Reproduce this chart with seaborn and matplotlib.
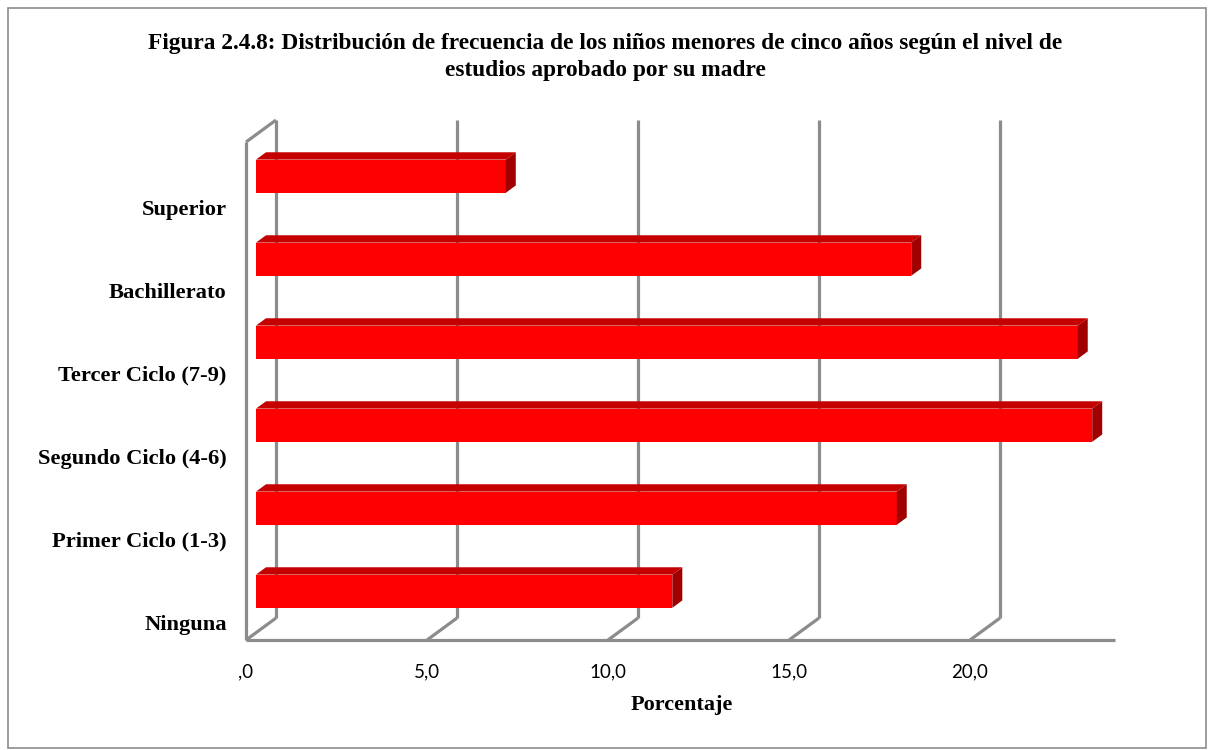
import matplotlib
matplotlib.use("Agg")
import matplotlib.pyplot as plt
import seaborn as sns
import pandas as pd
from matplotlib.patches import Polygon, Rectangle
from matplotlib.transforms import ScaledTranslation

# ---- data ----
categorias = ["Superior", "Bachillerato", "Tercer Ciclo (7-9)",
              "Segundo Ciclo (4-6)", "Primer Ciclo (1-3)", "Ninguna"]
porcentajes = [6.9, 18.1, 22.7, 23.1, 17.7, 11.5]
ticks_x = [0, 5, 10, 15, 20]
etiquetas_x = [",0", "5,0", "10,0", "15,0", "20,0"]
titulo = ("Figura 2.4.8: Distribución de frecuencia de los niños menores de cinco años según el nivel de\n"
          "estudios aprobado por su madre")
eje_x = "Porcentaje"

# ---- figure setup ----
W, H, DPI = 1208, 750, 100
sns.set_theme(style="white")
SERIF = ["Liberation Serif", "DejaVu Serif"]
SANS = ["Lato", "DejaVu Sans"]
GRIS = "#8c8c8c"

fig = plt.figure(figsize=(W / DPI, H / DPI), dpi=DPI)
fig.patch.set_facecolor("white")

# plot box (pixel coordinates of the bar front plane)
L, R, T, B = 256, 1124.8, 134.7, 632.7
ax = fig.add_axes([L / W, 1 - B / H, (R - L) / W, (B - T) / H])
XMAX = 24
Y0, Y1 = 5.5, -0.5

df = pd.DataFrame({"nivel": categorias, "pct": porcentajes})
sns.barplot(data=df, y="nivel", x="pct", orient="h", color="#ff0000",
            saturation=1, width=0.4, ax=ax, linewidth=0, zorder=3)
ax.set_xlim(0, XMAX)
ax.set_ylim(Y0, Y1)

# depth vector of the pseudo-3D box, in data units
sx = XMAX / (R - L)
sy = (Y0 - Y1) / (B - T)
ddx, ddy = 30 * sx, -22 * sy
fx, fy = -ddx / 3, -ddy / 3          # front plane
bx, by = 2 * ddx / 3, 2 * ddy / 3    # back wall

line_kw = dict(color=GRIS, lw=2.3, clip_on=False, solid_capstyle="butt", zorder=1)
# back wall gridlines
for v in ticks_x:
    ax.plot([v + bx, v + bx], [Y0 + by, Y1 + by], **line_kw)
# floor
ax.plot([fx, XMAX + fx], [Y0 + fy, Y0 + fy], **line_kw)
for v in ticks_x:
    ax.plot([v + fx, v + bx], [Y0 + fy, Y0 + by], **line_kw)
# left wall
ax.plot([fx, fx], [Y0 + fy, Y1 + fy], **line_kw)
ax.plot([fx, bx], [Y1 + fy, Y1 + by], **line_kw)

# top and side faces of each bar
dx, dy = ddx / 3, ddy / 3
for p in list(ax.patches):
    x0, w = p.get_x(), p.get_width()
    y0, h = p.get_y(), p.get_height()
    ax.add_patch(Polygon([(x0, y0), (x0 + w, y0), (x0 + w + dx, y0 + dy), (x0 + dx, y0 + dy)],
                         closed=True, facecolor="#c40000", edgecolor="none",
                         clip_on=False, zorder=3))
    ax.add_patch(Polygon([(x0 + w, y0), (x0 + w + dx, y0 + dy), (x0 + w + dx, y0 + h + dy), (x0 + w, y0 + h)],
                         closed=True, facecolor="#a00000", edgecolor="none",
                         clip_on=False, zorder=3))

# axes cosmetics
for s in ax.spines.values():
    s.set_visible(False)
ax.grid(False)
ax.set_facecolor("none")
ax.set_ylabel("")
ax.set_xlabel("")
ax.set_xticks(ticks_x)
ax.set_xticklabels(etiquetas_x, fontfamily=SANS, fontsize=13.5, color="black")
ax.tick_params(axis="x", length=0, pad=22)
ax.tick_params(axis="y", length=0, pad=21)
for lab in ax.get_yticklabels():
    lab.set_fontfamily(SERIF)
    lab.set_fontweight("bold")
    lab.set_fontsize(16.2)
    lab.set_color("black")
    lab.set_transform(lab.get_transform() + ScaledTranslation(0, -31 / DPI, fig.dpi_scale_trans))
for lab in ax.get_xticklabels():
    lab.set_transform(lab.get_transform() + ScaledTranslation(-10 / DPI, 0, fig.dpi_scale_trans))

fig.text(682 / W, 1 - 705 / H, eje_x, ha="center", va="center", color="black",
         fontfamily=SERIF, fontweight="bold", fontsize=16)
fig.text(605 / W, 1 - 57 / H, titulo, ha="center", va="center", color="black",
         fontfamily=SERIF, fontweight="bold", fontsize=16.8, linespacing=1.4)

# outer frame
fig.add_artist(Rectangle((8 / W, 2 / H), 1198 / W, 740 / H, transform=fig.transFigure,
                         fill=False, edgecolor=GRIS, lw=1.2))

fig.savefig("out.png", dpi=DPI, facecolor="white")
